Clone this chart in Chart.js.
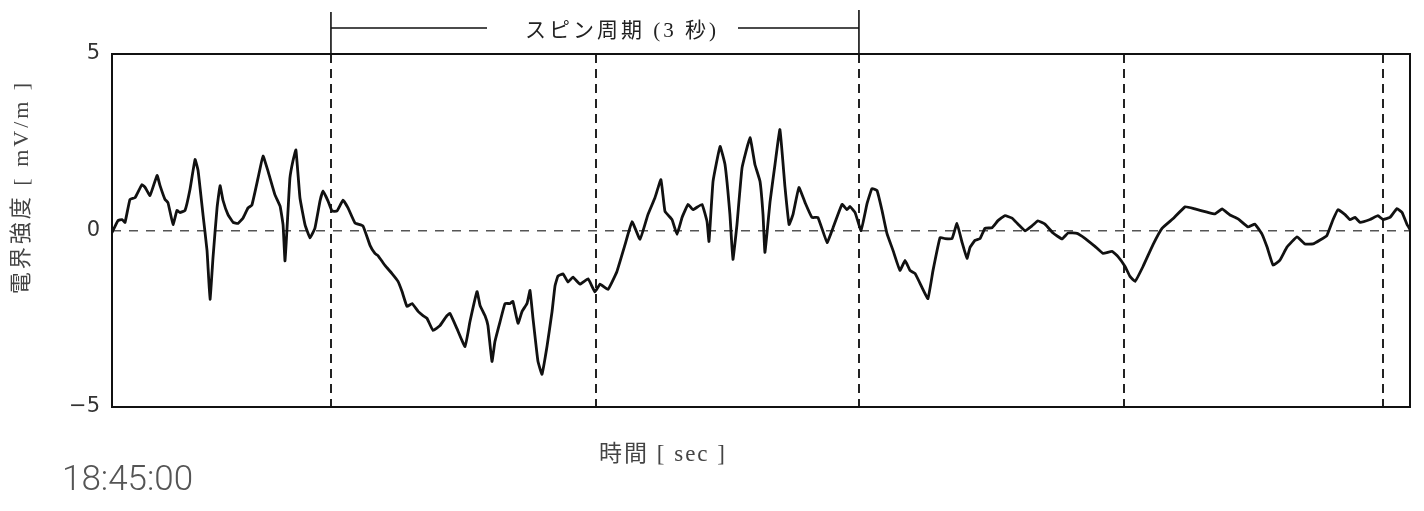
<!DOCTYPE html>
<html lang="ja">
<head>
<meta charset="UTF-8">
<title>電界強度</title>
<script src="https://cdn.jsdelivr.net/npm/chart.js"></script>
<style>
    html, body { margin: 0; padding: 0; background: #fff; }
    #wrap { width: 1424px; height: 511px; position: relative; }
</style>
</head>
<body>
<div id="wrap"><canvas id="efield"></canvas></div>
<script>
// time from left edge of plot [sec]
const timeSec = [
    0, 0.034, 0.057, 0.074, 0.102, 0.131, 0.170, 0.188, 0.216, 0.256,
    0.273, 0.301, 0.318, 0.347, 0.369, 0.386, 0.415, 0.443, 0.472, 0.489,
    0.517, 0.540, 0.557, 0.574, 0.597, 0.614, 0.631, 0.659, 0.688, 0.716,
    0.744, 0.773, 0.795, 0.830, 0.858, 0.886, 0.926, 0.955, 0.972, 0.983,
    1.000, 1.011, 1.028, 1.045, 1.068, 1.097, 1.125, 1.153, 1.182, 1.199,
    1.227, 1.250, 1.278, 1.313, 1.341, 1.381, 1.426, 1.466, 1.494, 1.511,
    1.551, 1.591, 1.625, 1.648, 1.676, 1.705, 1.739, 1.767, 1.790, 1.824,
    1.864, 1.903, 1.920, 1.960, 2.006, 2.034, 2.074, 2.091, 2.119, 2.136,
    2.159, 2.176, 2.205, 2.233, 2.261, 2.278, 2.307, 2.330, 2.358, 2.375,
    2.392, 2.420, 2.443, 2.472, 2.500, 2.517, 2.534, 2.563, 2.591, 2.619,
    2.659, 2.705, 2.744, 2.773, 2.818, 2.869, 2.915, 2.955, 3.000, 3.045,
    3.085, 3.119, 3.142, 3.182, 3.210, 3.239, 3.273, 3.301, 3.352, 3.381,
    3.392, 3.415, 3.455, 3.483, 3.511, 3.528, 3.551, 3.580, 3.625, 3.653,
    3.682, 3.699, 3.710, 3.739, 3.767, 3.795, 3.824, 3.847, 3.869, 3.903,
    3.938, 3.977, 4.011, 4.063, 4.097, 4.148, 4.176, 4.193, 4.222, 4.256,
    4.290, 4.318, 4.347, 4.375, 4.403, 4.438, 4.477, 4.506, 4.534, 4.563,
    4.602, 4.636, 4.665, 4.705, 4.733, 4.773, 4.801, 4.830, 4.858, 4.875,
    4.903, 4.932, 4.960, 5.000, 5.034, 5.074, 5.114, 5.148, 5.188, 5.227,
    5.261, 5.301, 5.347, 5.398, 5.432, 5.483, 5.528, 5.585, 5.631, 5.682,
    5.716, 5.756, 5.784, 5.813, 5.858, 5.915, 5.966, 6.028, 6.097, 6.153,
    6.222, 6.267, 6.307, 6.352, 6.398, 6.455, 6.494, 6.534, 6.563, 6.597,
    6.636, 6.676, 6.733, 6.778, 6.824, 6.864, 6.903, 6.938, 6.966, 7.006,
    7.034, 7.063, 7.091, 7.148, 7.193, 7.222, 7.261, 7.301, 7.330, 7.358,
    7.375
];

// electric field [mV/m]
const fieldMvm = [
    -0.06, 0.28, 0.31, 0.23, 0.88, 0.93, 1.30, 1.22, 0.99, 1.56,
    1.27, 0.88, 0.79, 0.17, 0.57, 0.51, 0.57, 1.16, 2.01, 1.70,
    0.45, -0.57, -1.95, -0.76, 0.65, 1.27, 0.85, 0.45, 0.23, 0.20,
    0.35, 0.64, 0.72, 1.49, 2.11, 1.69, 1.01, 0.69, 0.16, -0.86,
    0.55, 1.49, 1.97, 2.28, 0.92, 0.16, -0.21, 0.07, 0.84, 1.12,
    0.84, 0.55, 0.55, 0.86, 0.64, 0.21, 0.13, -0.42, -0.65, -0.71,
    -0.99, -1.22, -1.44, -1.73, -2.15, -2.07, -2.29, -2.41, -2.49, -2.83,
    -2.69, -2.41, -2.35, -2.78, -3.29, -2.58, -1.73, -2.12, -2.41, -2.69,
    -3.71, -3.14, -2.58, -2.07, -2.07, -2.01, -2.63, -2.29, -2.07, -1.70,
    -2.49, -3.70, -4.07, -3.27, -2.31, -1.57, -1.29, -1.23, -1.46, -1.32,
    -1.52, -1.37, -1.74, -1.52, -1.67, -1.16, -0.40, 0.25, -0.25, 0.45,
    0.93, 1.44, 0.54, 0.31, -0.11, 0.37, 0.74, 0.59, 0.74, 0.25,
    -0.31, 1.39, 2.38, 1.87, 0.45, -0.82, 0.17, 1.78, 2.63, 1.87,
    1.39, 0.45, -0.62, 0.82, 1.87, 2.86, 1.22, 0.17, 0.45, 1.22,
    0.79, 0.37, 0.37, -0.34, 0.08, 0.74, 0.59, 0.68, 0.51, 0.00,
    0.76, 1.19, 1.13, 0.57, -0.08, -0.57, -1.13, -0.85, -1.13, -1.22,
    -1.61, -1.93, -1.13, -0.20, -0.23, -0.23, 0.20, -0.34, -0.79, -0.48,
    -0.28, -0.23, 0.06, 0.08, 0.28, 0.42, 0.35, 0.18, -0.01, 0.13,
    0.27, 0.18, -0.07, -0.24, -0.07, -0.08, -0.22, -0.45, -0.65, -0.59,
    -0.74, -1.02, -1.30, -1.44, -1.02, -0.40, 0.06, 0.33, 0.67, 0.61,
    0.52, 0.47, 0.61, 0.44, 0.33, 0.10, 0.18, -0.10, -0.47, -0.98,
    -0.84, -0.47, -0.18, -0.38, -0.38, -0.27, -0.14, 0.31, 0.59, 0.45,
    0.31, 0.37, 0.23, 0.31, 0.42, 0.31, 0.37, 0.62, 0.51, 0.17,
    0.03
];

// dashed spin-phase markers [sec]
const spinMarks = [1.244, 2.750, 4.244, 5.750, 7.222];
const yTicks = [-5, 0, 5];

const yTitle = '電界強度 [ mV/m ]';
const xTitle = '時間 [ sec ]';
const spinLabel = 'スピン周期 (3 秒)';
const startTime = '18:45:00';

const serif = "'Liberation Serif', 'Noto Sans CJK JP', serif";

// frame + outside labels
const decorPlugin = {
    id: 'decor',
    afterDraw(chart) {
        const ctx = chart.ctx;
        const a = chart.chartArea;
        const xs = chart.scales.x;
        ctx.save();

        // plot frame
        ctx.strokeStyle = '#111';
        ctx.lineWidth = 2;
        ctx.strokeRect(a.left, a.top, a.right - a.left, a.bottom - a.top);

        // spin period bracket
        const x1 = xs.getPixelForValue(spinMarks[0]);
        const x2 = xs.getPixelForValue(spinMarks[2]);
        const yb = 28;
        ctx.lineWidth = 1.6;
        ctx.beginPath();
        ctx.moveTo(x1, 12); ctx.lineTo(x1, a.top);
        ctx.moveTo(x2, 10); ctx.lineTo(x2, a.top);
        ctx.moveTo(x1, yb); ctx.lineTo(487, yb);
        ctx.moveTo(738, yb); ctx.lineTo(x2, yb);
        ctx.stroke();

        ctx.fillStyle = '#222';
        ctx.font = '21px ' + serif;
        ctx.textBaseline = 'middle';
        ctx.textAlign = 'center';
        ctx.letterSpacing = '3px';
        ctx.fillText(spinLabel, 622, 31);

        // x title
        ctx.letterSpacing = '2px';
        ctx.fillStyle = '#444';
        ctx.font = '23px ' + serif;
        ctx.fillText(xTitle, 663, 455);

        // y title
        ctx.save();
        ctx.translate(22, 187);
        ctx.rotate(-Math.PI / 2);
        ctx.letterSpacing = '3px';
        ctx.font = '22px ' + serif;
        ctx.fillText(yTitle, 0, 0);
        ctx.restore();

        // start time
        ctx.letterSpacing = '0px';
        ctx.textAlign = 'left';
        ctx.fillStyle = '#555';
        ctx.font = "300 35px Roboto, 'Open Sans', sans-serif";
        ctx.fillText(startTime, 62, 481);

        ctx.restore();
    }
};

new Chart(document.getElementById('efield'), {
    type: 'line',
    data: {
        datasets: [{
            data: timeSec.map((t, i) => ({ x: t, y: fieldMvm[i] })),
            borderColor: '#111',
            borderWidth: 2.8,
            pointRadius: 0,
            tension: 0.1,
            fill: false
        }]
    },
    options: {
        responsive: true,
        maintainAspectRatio: false,
        animation: false,
        layout: { padding: { left: 0, right: 14, top: 54, bottom: 0 } },
        plugins: {
            legend: { display: false },
            tooltip: { enabled: false }
        },
        scales: {
            x: {
                type: 'linear',
                min: 0,
                max: 7.375,
                afterFit(scale) { scale.height = 104; },
                afterBuildTicks(scale) {
                    scale.ticks = spinMarks.map(v => ({ value: v }));
                },
                ticks: { display: false },
                grid: { color: '#222', lineWidth: 2, drawTicks: false },
                border: { display: false, dash: [9, 6] }
            },
            y: {
                min: -5,
                max: 5,
                afterFit(scale) { scale.width = 112; },
                afterBuildTicks(scale) {
                    scale.ticks = yTicks.map(v => ({ value: v }));
                },
                ticks: {
                    padding: 12,
                    color: '#333',
                    font: { family: "'DejaVu Sans', sans-serif", size: 21 },
                    callback: v => v < 0 ? '\u2212' + Math.abs(v) : String(v)
                },
                grid: {
                    drawTicks: false,
                    lineWidth: 1.5,
                    color: ctx => ctx.tick && ctx.tick.value === 0 ? '#555' : 'rgba(0,0,0,0)'
                },
                border: { display: false, dash: [9, 8] }
            }
        }
    },
    plugins: [decorPlugin]
});
</script>
</body>
</html>
